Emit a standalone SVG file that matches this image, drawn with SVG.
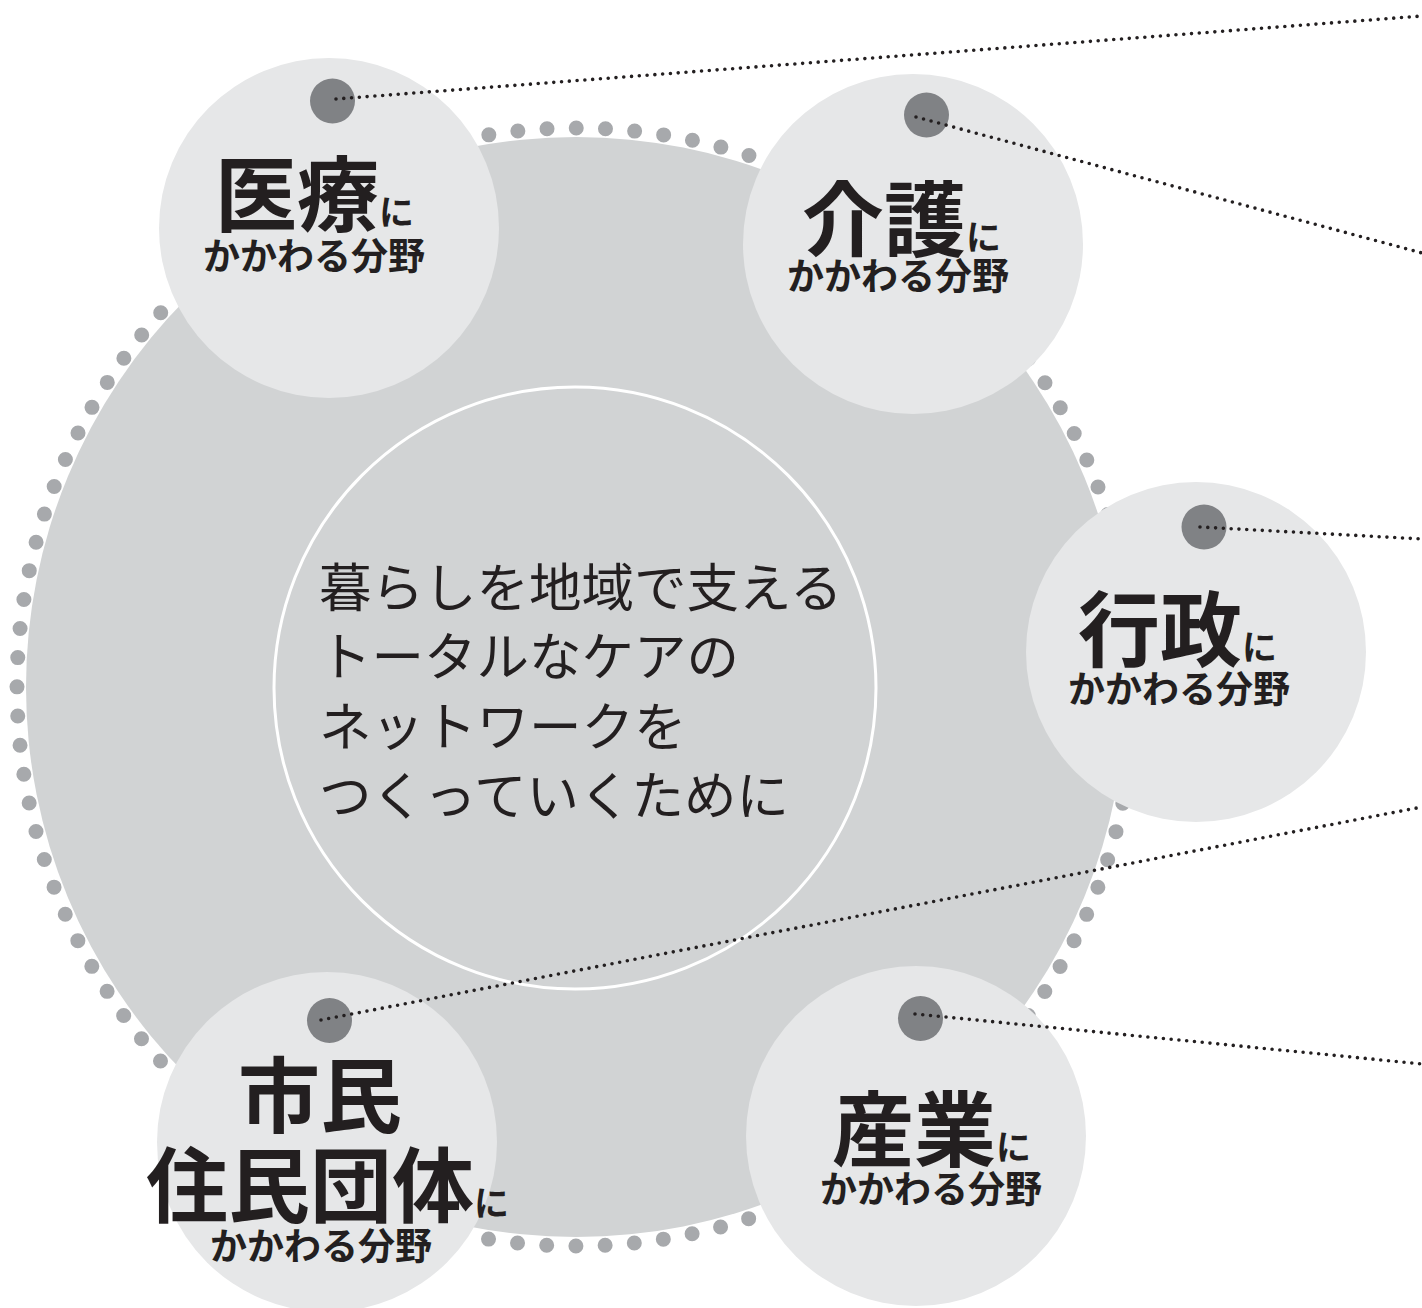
<svg xmlns="http://www.w3.org/2000/svg" width="1422" height="1308" viewBox="0 0 1422 1308">
<style>
.field{fill:#e6e7e8}
.pin{fill:#808285}
.lead{fill:none;stroke:#231f20;stroke-width:3.6;stroke-linecap:round;stroke-dasharray:0 7.8}
.head{font-family:"Noto Sans CJK JP","Noto Sans CJK SC",sans-serif;font-weight:bold;fill:#231f20}
.big{font-size:82px}
.ni{font-size:35px}
.sub{font-family:"Noto Sans CJK JP","Noto Sans CJK SC",sans-serif;font-weight:bold;font-size:37px;fill:#231f20}
.center{font-family:"Noto Sans CJK JP","Noto Sans CJK SC",sans-serif;font-size:52.5px;fill:#231f20}
</style>
<rect width="1422" height="1308" fill="#ffffff"/>
<g id="network">
<circle cx="576" cy="687" r="550" fill="#d1d3d4"/>
<circle cx="576" cy="687" r="559" fill="none" stroke="#a7a9ac" stroke-width="15" stroke-linecap="round" stroke-dasharray="0 29.269"/>
<circle cx="575" cy="688" r="301" fill="none" stroke="#ffffff" stroke-width="3"/>
<text class="center" x="319"><tspan x="319" y="607">暮らしを地域で支える</tspan><tspan x="319" y="676">トータルなケアの</tspan><tspan x="319" y="746">ネットワークを</tspan><tspan x="319" y="815">つくっていくために</tspan></text>
</g>
<g id="iryo">
<circle class="field" cx="329" cy="228" r="170"/>
<circle class="pin" cx="332.5" cy="101" r="22.5"/>
<text class="head" x="215" y="225"><tspan class="big">医療</tspan><tspan class="ni">に</tspan></text>
<text class="sub" x="203" y="270">かかわる分野</text>
</g>
<g id="kaigo">
<circle class="field" cx="913" cy="244" r="170"/>
<circle class="pin" cx="926.5" cy="115" r="22.5"/>
<text class="head" x="802" y="250"><tspan class="big">介護</tspan><tspan class="ni">に</tspan></text>
<text class="sub" x="787" y="290">かかわる分野</text>
</g>
<g id="gyosei">
<circle class="field" cx="1196" cy="652" r="170"/>
<circle class="pin" cx="1204" cy="527" r="22.5"/>
<text class="head" x="1078" y="660"><tspan class="big">行政</tspan><tspan class="ni">に</tspan></text>
<text class="sub" x="1068" y="703">かかわる分野</text>
</g>
<g id="shimin">
<circle class="field" cx="327" cy="1142" r="170"/>
<circle class="pin" cx="329.5" cy="1020.5" r="22.5"/>
<text class="head big" x="238" y="1126">市民</text>
<text class="head" x="146" y="1216"><tspan class="big">住民団体</tspan><tspan class="ni">に</tspan></text>
<text class="sub" x="210" y="1260">かかわる分野</text>
</g>
<g id="sangyo">
<circle class="field" cx="916" cy="1136" r="170"/>
<circle class="pin" cx="920.5" cy="1018.5" r="22.5"/>
<text class="head" x="832" y="1160"><tspan class="big">産業</tspan><tspan class="ni">に</tspan></text>
<text class="sub" x="820" y="1203">かかわる分野</text>
</g>
<g id="connectors">
<line class="lead" x1="336" y1="99" x2="1422" y2="16"/>
<line class="lead" x1="916" y1="117" x2="1422" y2="253"/>
<line class="lead" x1="1200" y1="527" x2="1422" y2="539"/>
<line class="lead" x1="321" y1="1020" x2="1422" y2="807"/>
<line class="lead" x1="915" y1="1014" x2="1422" y2="1064"/>
</g>
</svg>
